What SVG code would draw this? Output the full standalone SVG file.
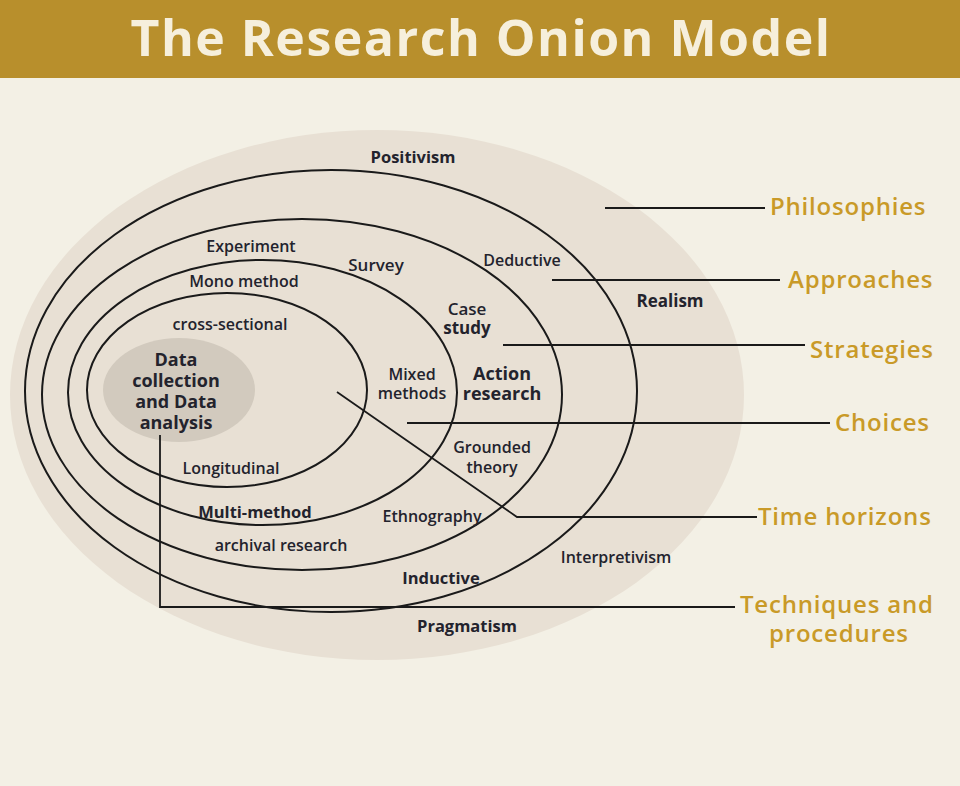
<svg xmlns="http://www.w3.org/2000/svg" width="960" height="786" viewBox="0 0 960 786">
<style>
.ring{fill:none;stroke:#1a1a1a;stroke-width:2}
.c{fill:none;stroke:#1a1a1a;stroke-width:1.8}
text{font-family:"Open Sans","Liberation Sans",sans-serif;fill:#23232d;text-anchor:middle}
.b{font-weight:700;font-size:16.5px}
.m{font-weight:600;font-size:16px}
.r{font-weight:600;font-size:24px;letter-spacing:0.8px;fill:#c99a28;text-anchor:start}
</style>
<rect width="960" height="786" fill="#f3f0e5"/>
<rect width="960" height="78" fill="#b88f2c"/>
<text x="481" y="56" style="font-size:50px;font-weight:700;letter-spacing:1.5px;fill:#f6efdc">The Research Onion Model</text>
<g id="onion">
<ellipse cx="377" cy="395" rx="367" ry="265" fill="#e8e0d4"/>
<ellipse class="ring" cx="331" cy="391" rx="306" ry="221"/>
<ellipse class="ring" cx="302" cy="394.5" rx="260" ry="175.5"/>
<ellipse class="ring" cx="262.5" cy="392.5" rx="194.5" ry="132.5"/>
<ellipse class="ring" cx="227" cy="390" rx="140" ry="97"/>
</g>
<g id="core">
<ellipse cx="179" cy="390" rx="76" ry="52" fill="#d2cabe"/>
<text class="b" style="font-size:18px" x="176" y="366">Data</text>
<text class="b" style="font-size:18px" x="176" y="387">collection</text>
<text class="b" style="font-size:18px" x="176" y="408">and Data</text>
<text class="b" style="font-size:18px" x="176" y="429">analysis</text>
</g>
<g id="connectors">
<path class="c" d="M605 208H765"/>
<path class="c" d="M552 280H780"/>
<path class="c" d="M503 345H805"/>
<path class="c" d="M407 423H830"/>
<path class="c" d="M337 392L517 517H757"/>
<path class="c" d="M160 435V607H735"/>
</g>
<g id="labels">
<text class="b" x="413" y="163">Positivism</text>
<text class="m" x="251" y="252">Experiment</text>
<text class="m" x="244" y="287">Mono method</text>
<text class="m" style="font-size:17px" x="376" y="271">Survey</text>
<text class="m" x="522" y="266">Deductive</text>
<text class="m" style="font-size:17px" x="467" y="315">Case</text>
<text class="b" style="font-size:17px" x="467" y="334">study</text>
<text class="b" style="font-size:17px" x="670" y="307">Realism</text>
<text class="m" x="230" y="330">cross-sectional</text>
<text class="m" x="412" y="380">Mixed</text>
<text class="m" x="412" y="399">methods</text>
<text class="b" style="font-size:18px" x="502" y="380">Action</text>
<text class="b" style="font-size:18px" x="502" y="400">research</text>
<text class="m" x="492" y="453">Grounded</text>
<text class="m" x="492" y="473">theory</text>
<text class="m" x="231" y="474">Longitudinal</text>
<text class="b" x="255" y="518">Multi-method</text>
<text class="m" x="432" y="522">Ethnography</text>
<text class="m" x="281" y="551">archival research</text>
<text class="m" x="616" y="563">Interpretivism</text>
<text class="b" x="441" y="584">Inductive</text>
<text class="b" x="467" y="632">Pragmatism</text>
</g>
<g id="layers">
<text class="r" x="770" y="215">Philosophies</text>
<text class="r" x="788" y="288">Approaches</text>
<text class="r" x="810" y="358">Strategies</text>
<text class="r" x="835" y="431">Choices</text>
<text class="r" x="758" y="525">Time horizons</text>
<text class="r" x="740" y="613">Techniques and</text>
<text class="r" x="769" y="642">procedures</text>
</g>
</svg>
